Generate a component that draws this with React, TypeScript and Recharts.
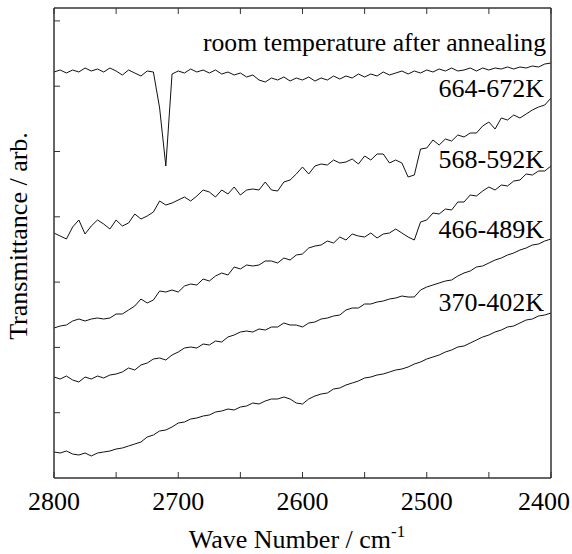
import React from "react";
import { Line, LineChart, XAxis, YAxis } from "recharts";

// wave numbers, cm-1 (every 5)
const waveNumbers = [
  2800, 2795, 2790, 2785, 2780, 2775, 2770, 2765, 2760, 2755, 2750, 2745, 2740, 2735, 2730, 2725, 2720,
  2715, 2710, 2705, 2700, 2695, 2690, 2685, 2680, 2675, 2670, 2665, 2660, 2655, 2650, 2645, 2640, 2635,
  2630, 2625, 2620, 2615, 2610, 2605, 2600, 2595, 2590, 2585, 2580, 2575, 2570, 2565, 2560, 2555, 2550,
  2545, 2540, 2535, 2530, 2525, 2520, 2515, 2510, 2505, 2500, 2495, 2490, 2485, 2480, 2475, 2470, 2465,
  2460, 2455, 2450, 2445, 2440, 2435, 2430, 2425, 2420, 2415, 2410, 2405, 2400,
];

// transmittance, arbitrary units (offset spectra)
const roomTemp = [
  406, 408, 405, 408, 406, 410, 407, 409, 406, 410, 407, 403, 408, 405, 402, 407, 406,
  370, 312, 404,
  407, 405, 409, 406, 408, 405, 408, 404, 406, 403, 405, 401, 403,
  398, 396, 400, 398, 401, 397, 400, 398,
  401, 397, 400, 398, 402, 399, 402, 400, 404, 401,
  404, 402, 406, 403, 405, 407, 404, 407, 405, 408,
  406, 409, 407, 410, 407, 408, 410, 407, 410, 408,
  410, 409, 411, 409, 411, 410, 412, 411, 414, 415,
];

const k664 = [
  245, 242, 239, 251, 258, 244, 252, 258, 254, 249, 258, 252, 255, 264, 259, 262, 266,
  277, 273, 275, 278, 281, 277, 282, 288, 286, 281, 288, 284, 291, 283, 288, 289,
  288, 296, 288, 287, 296, 298, 304, 311, 304, 312, 314, 313, 318, 315, 316, 319, 314, 322,
  318, 324, 324, 315, 318, 315, 301, 303, 329, 330, 338, 333, 339, 337, 343, 341, 345,
  345, 352, 356, 349, 360, 358, 363, 360, 364, 368, 371, 373, 380,
];

const k568 = [
  150, 152, 153, 157, 159, 157, 159, 160, 159, 160, 164, 164, 168, 172, 179, 175, 178,
  187, 186, 188, 186, 192, 194, 193, 199, 197, 202, 205, 203, 211, 209, 213, 212,
  213, 217, 217, 215, 220, 218, 223, 224, 230, 232, 233, 237, 235, 241, 238, 244, 242, 241,
  245, 240, 244, 245, 249, 245, 241, 238, 256, 258, 265, 264, 269, 268, 276, 276, 283,
  282, 287, 291, 288, 293, 292, 297, 298, 304, 303, 307, 307, 312,
];

const k466 = [
  101, 99, 102, 98, 96, 101, 99, 102, 100, 103, 104, 106, 110, 108, 113, 115, 119,
  120, 118, 123, 126, 130, 131, 130, 134, 133, 137, 136, 141, 143, 146, 147, 146,
  149, 148, 151, 151, 155, 153, 153, 151, 155, 156, 159, 160, 162, 163, 168, 170, 170, 174,
  174, 176, 177, 179, 180, 182, 181, 181, 188, 191, 193, 195, 197, 198, 202, 205, 207,
  211, 212, 215, 218, 220, 223, 225, 228, 230, 233, 234, 237, 239,
];

const k370 = [
  26, 25, 27, 24, 23, 25, 22, 25, 26, 27, 29, 30, 32, 34, 36, 41, 43,
  47, 48, 51, 55, 56, 59, 60, 62, 63, 66, 67, 69, 68, 71, 72, 75,
  74, 77, 79, 79, 81, 79, 75, 74, 79, 82, 84, 85, 89, 90, 93, 95, 97, 100,
  101, 103, 104, 106, 108, 109, 111, 114, 116, 119, 121, 123, 126, 128, 131, 132, 135,
  138, 141, 143, 146, 148, 151, 152, 155, 158, 159, 162, 163, 165,
];

const xTicks = [2800, 2750, 2700, 2650, 2600, 2550, 2500, 2450, 2400];
const yTicks = [65.3, 130.6, 195.9, 261.2, 326.5, 391.8, 457.1];

const data = waveNumbers.map((wn, i) => ({
  wn,
  room: roomTemp[i],
  k664: k664[i],
  k568: k568[i],
  k466: k466[i],
  k370: k370[i],
}));

const font = "Liberation Serif, Times New Roman, serif";
const serif = { fontFamily: font };
const frame = { stroke: "#333", strokeWidth: 1.5 };
const series = ["room", "k664", "k568", "k466", "k370"];

// only the hundreds get a label; the last one is nudged in so it stays on the page
function WaveTick(props: any) {
  const { x, y, payload } = props;
  const v = payload.value;
  if (v % 100 !== 0) return <g />;
  return (
    <text x={x} y={y} dy={18.5} dx={v === 2400 ? -7 : 0} textAnchor="middle" fill="#000" style={{ ...serif, fontSize: 26 }}>
      {v}
    </text>
  );
}

export default function App() {
  return (
    <div style={{ position: "absolute", left: 0, top: 0, background: "#fff", fontFamily: font }}>
      <LineChart width={572} height={554} data={data} margin={{ top: 7, right: 20, bottom: 0, left: 0 }}>
        <XAxis
          dataKey="wn"
          type="number"
          domain={[2400, 2800]}
          reversed
          ticks={xTicks}
          height={76}
          tickSize={-6}
          tickMargin={19}
          axisLine={frame}
          tickLine={{ stroke: "#333" }}
          tick={WaveTick}
          interval={0}
        />
        <XAxis
          xAxisId="top"
          dataKey="wn"
          type="number"
          orientation="top"
          domain={[2400, 2800]}
          reversed
          ticks={xTicks}
          height={1}
          tickSize={-6}
          axisLine={frame}
          tickLine={{ stroke: "#333" }}
          tickFormatter={() => ""}
          interval={0}
        />
        <YAxis
          domain={[0, 470]}
          ticks={yTicks}
          width={54}
          tickSize={-6}
          axisLine={frame}
          tickLine={{ stroke: "#333" }}
          tickFormatter={() => ""}
          interval={0}
        />
        <YAxis
          yAxisId="right"
          orientation="right"
          domain={[0, 470]}
          ticks={yTicks}
          width={1}
          tickSize={-6}
          axisLine={frame}
          tickLine={{ stroke: "#333" }}
          tickFormatter={() => ""}
          interval={0}
        />
        {series.map((key) => (
          <Line
            key={key}
            dataKey={key}
            type="linear"
            stroke="#111"
            strokeWidth={1}
            dot={false}
            isAnimationActive={false}
          />
        ))}
        <g fill="#000" textAnchor="end">
          <text x={546} y={51} style={{ ...serif, fontSize: 25.7 }}>room temperature after annealing</text>
          <text x={544} y={97} style={{ ...serif, fontSize: 26 }}>664-672K</text>
          <text x={544} y={168} style={{ ...serif, fontSize: 26 }}>568-592K</text>
          <text x={544} y={238} style={{ ...serif, fontSize: 26 }}>466-489K</text>
          <text x={544} y={311} style={{ ...serif, fontSize: 26 }}>370-402K</text>
        </g>
        <text
          x={27}
          y={236}
          transform="rotate(-90 27 236)"
          textAnchor="middle"
          style={{ ...serif, fontSize: 26 }}
          fill="#000"
        >
          Transmittance / arb.
        </text>
        <text x={297} y={548} textAnchor="middle" style={{ ...serif, fontSize: 26 }} fill="#000">
          Wave Number / cm
          <tspan dy={-11} fontSize={17}>-1</tspan>
        </text>
      </LineChart>
    </div>
  );
}
